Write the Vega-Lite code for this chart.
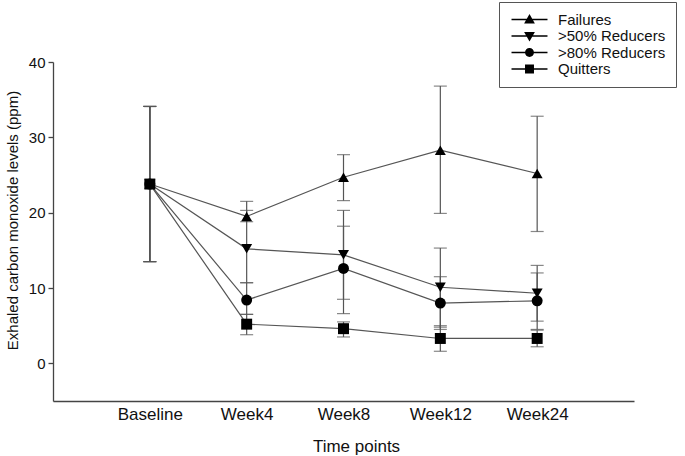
{
  "$schema": "https://vega.github.io/schema/vega-lite/v6.json",
  "width": 581,
  "height": 339,
  "autosize": {"type": "none"},
  "padding": {"left": 53, "top": 62, "right": 51, "bottom": 55},
  "background": "white",
  "config": {"view": {"stroke": null}, "font": "Liberation Sans"},
  "data": {"values": [
    {"group": "Failures", "time": "Baseline", "mean": 23.8, "lo": 13.5, "hi": 34.1},
    {"group": ">50% Reducers", "time": "Baseline", "mean": 23.8, "lo": 13.5, "hi": 34.1},
    {"group": ">80% Reducers", "time": "Baseline", "mean": 23.8, "lo": 13.5, "hi": 34.1},
    {"group": "Quitters", "time": "Baseline", "mean": 23.8, "lo": 13.5, "hi": 34.1},
    {"group": "Failures", "time": "Week4", "mean": 19.5, "lo": 18.8, "hi": 21.5},
    {"group": ">50% Reducers", "time": "Week4", "mean": 15.2, "lo": 10.7, "hi": 20.3},
    {"group": ">80% Reducers", "time": "Week4", "mean": 8.4, "lo": 6.5, "hi": 10.7},
    {"group": "Quitters", "time": "Week4", "mean": 5.2, "lo": 3.8, "hi": 6.5},
    {"group": "Failures", "time": "Week8", "mean": 24.7, "lo": 21.6, "hi": 27.7},
    {"group": ">50% Reducers", "time": "Week8", "mean": 14.4, "lo": 8.5, "hi": 20.3},
    {"group": ">80% Reducers", "time": "Week8", "mean": 12.6, "lo": 6.6, "hi": 18.2},
    {"group": "Quitters", "time": "Week8", "mean": 4.6, "lo": 3.5, "hi": 5.5},
    {"group": "Failures", "time": "Week12", "mean": 28.3, "lo": 19.9, "hi": 36.8},
    {"group": ">50% Reducers", "time": "Week12", "mean": 10.1, "lo": 4.8, "hi": 15.3},
    {"group": ">80% Reducers", "time": "Week12", "mean": 8.0, "lo": 4.5, "hi": 11.5},
    {"group": "Quitters", "time": "Week12", "mean": 3.3, "lo": 1.6, "hi": 5.0},
    {"group": "Failures", "time": "Week24", "mean": 25.2, "lo": 17.5, "hi": 32.8},
    {"group": ">50% Reducers", "time": "Week24", "mean": 9.3, "lo": 5.6, "hi": 13.0},
    {"group": ">80% Reducers", "time": "Week24", "mean": 8.3, "lo": 4.5, "hi": 12.0},
    {"group": "Quitters", "time": "Week24", "mean": 3.3, "lo": 2.2, "hi": 4.4}
  ]},
  "encoding": {
    "x": {
      "field": "time", "type": "ordinal",
      "sort": ["Baseline", "Week4", "Week8", "Week12", "Week24"],
      "scale": {"type": "point", "padding": 1},
      "axis": {
        "title": "Time points", "labelAngle": 0, "ticks": false,
        "domainColor": "#444", "domainWidth": 1.3,
        "labelFontSize": 17, "labelColor": "#111", "labelPadding": 5,
        "titleFontSize": 17, "titleFontWeight": "normal", "titleColor": "#111",
        "titleX": 303, "titleY": 50, "titleBaseline": "alphabetic", "titleAlign": "center"
      }
    }
  },
  "layer": [
    {
      "mark": {"type": "rule", "color": "#555", "strokeWidth": 1.2},
      "encoding": {
        "y": {
          "field": "lo", "type": "quantitative",
          "scale": {"domain": [-5, 40], "nice": false, "zero": false},
          "axis": {
            "title": "Exhaled carbon monoxide levels (ppm)",
            "values": [0, 10, 20, 30, 40], "grid": false,
            "domainColor": "#444", "domainWidth": 1.3,
            "tickColor": "#444", "tickSize": 5, "tickWidth": 1.3,
            "labelFontSize": 15, "labelColor": "#111", "labelPadding": 3,
            "titleFontSize": 15, "titleFontWeight": "normal", "titleColor": "#111",
            "titleX": -41, "titleY": 158, "titleBaseline": "middle", "titleAlign": "center", "titleAngle": -90
          }
        },
        "y2": {"field": "hi"}
      }
    },
    {
      "mark": {"type": "tick", "color": "#555", "size": 13, "thickness": 1.2},
      "encoding": {"y": {"field": "lo", "type": "quantitative", "title": "Exhaled carbon monoxide levels (ppm)"}}
    },
    {
      "mark": {"type": "tick", "color": "#555", "size": 13, "thickness": 1.2},
      "encoding": {"y": {"field": "hi", "type": "quantitative", "title": "Exhaled carbon monoxide levels (ppm)"}}
    },
    {
      "mark": {"type": "line", "color": "#555", "strokeWidth": 1.2},
      "encoding": {
        "y": {"field": "mean", "type": "quantitative", "title": "Exhaled carbon monoxide levels (ppm)"},
        "detail": {"field": "group"}
      }
    },
    {
      "mark": {"type": "point", "filled": true, "color": "black", "opacity": 1},
      "encoding": {
        "y": {"field": "mean", "type": "quantitative", "title": "Exhaled carbon monoxide levels (ppm)"},
        "shape": {
          "field": "group", "type": "nominal",
          "scale": {"domain": ["Failures", ">50% Reducers", ">80% Reducers", "Quitters"], "range": ["triangle-up", "triangle-down", "circle", "square"]},
          "legend": null
        },
        "size": {
          "field": "group", "type": "nominal",
          "scale": {"domain": ["Failures", ">50% Reducers", ">80% Reducers", "Quitters"], "range": [120, 120, 85, 100]},
          "legend": null
        }
      }
    },
    {
      "mark": {"type": "point", "filled": true, "color": "black", "opacity": 0},
      "encoding": {
        "y": {"field": "mean", "type": "quantitative", "title": "Exhaled carbon monoxide levels (ppm)"},
        "shape": {
          "field": "group", "type": "nominal",
          "scale": {
            "domain": ["Failures", ">50% Reducers", ">80% Reducers", "Quitters"],
            "range": [
              "M-2.57,-0.1L2.57,-0.1L2.57,0.1L-2.57,0.1ZM0,-0.77L0.77,0.58L-0.77,0.58Z",
              "M-2.57,-0.1L2.57,-0.1L2.57,0.1L-2.57,0.1ZM0,0.77L-0.77,-0.58L0.77,-0.58Z",
              "M-2.57,-0.1L2.57,-0.1L2.57,0.1L-2.57,0.1ZM0.64,0A0.64,0.64 0 1,1 -0.64,0A0.64,0.64 0 1,1 0.64,0Z",
              "M-2.57,-0.1L2.57,-0.1L2.57,0.1L-2.57,0.1ZM-0.64,-0.64L0.64,-0.64L0.64,0.64L-0.64,0.64Z"
            ]
          },
          "legend": {
            "title": null, "orient": "none", "legendX": 446, "legendY": -60,
            "symbolSize": 196, "symbolFillColor": "black", "symbolStrokeColor": "transparent",
            "symbolStrokeWidth": 0, "symbolOpacity": 1,
            "labelFontSize": 15, "labelColor": "#111", "labelOffset": 21, "symbolOffset": 13,
            "strokeColor": "#555", "padding": 10, "rowPadding": 0.5, "fillColor": "white"
          }
        }
      }
    }
  ],
  "resolve": {"scale": {"shape": "independent"}, "legend": {"shape": "independent"}}
}
